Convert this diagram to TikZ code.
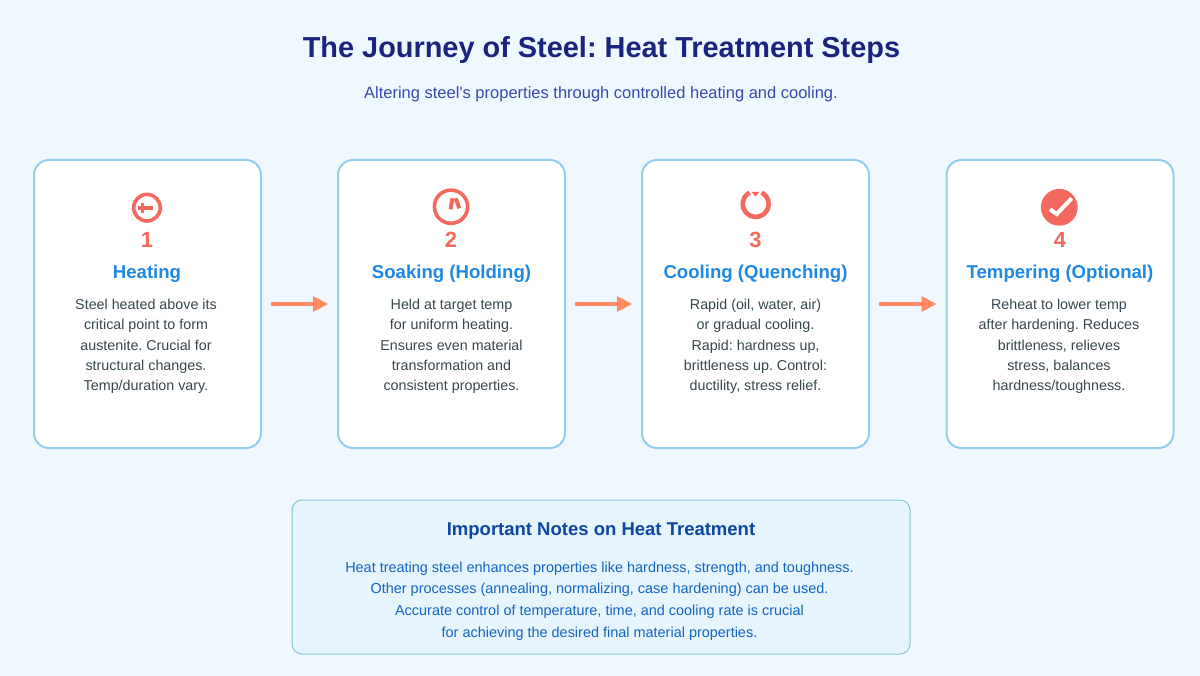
\documentclass[tikz,border=0pt]{standalone}
\usepackage{fontspec}
\setmainfont{Liberation Sans}
\usetikzlibrary{arrows.meta}
\definecolor{pagebg}{HTML}{F0F8FF}
\definecolor{cardedge}{HTML}{90CFEF}
\definecolor{noteedge}{HTML}{85C5D5}
\definecolor{notefill}{HTML}{E5F4FD}
\definecolor{titleblue}{HTML}{1A237E}
\definecolor{subblue}{HTML}{3949AB}
\definecolor{stepblue}{HTML}{1E88E5}
\definecolor{stepred}{HTML}{F4695F}
\definecolor{arrowred}{HTML}{FF8A65}
\definecolor{bodygrey}{HTML}{37474F}
\definecolor{notehead}{HTML}{0D47A1}
\definecolor{notetext}{HTML}{1565C0}
\def\cardw{227pt}
\def\cardh{288pt}
\tikzset{card/.style={draw=cardedge, line width=2pt, fill=white, rounded corners=15pt, minimum width=\cardw, minimum height=\cardh, inner sep=0pt, outer sep=0pt}}
\tikzset{notebox/.style={draw=noteedge, line width=1pt, fill=notefill, rounded corners=10pt, minimum width=618pt, minimum height=154pt, inner sep=0pt, outer sep=0pt}}
\tikzset{flow/.style={line width=3.3pt, arrowred, -{Triangle[length=15pt,width=15pt]}, shorten <=10pt, shorten >=10pt}}
\tikzset{num/.style={stepred, font=\bfseries\fontsize{22}{24}\selectfont}}
\tikzset{head/.style={stepblue, font=\bfseries\fontsize{18.6}{20}\selectfont}}
\tikzset{body/.style={bodygrey, align=center, font=\fontsize{14.3}{20.3}\selectfont}}
\tikzset{icon/.style={stepred, line width=3.6pt}}
\begin{document}
\frenchspacing
\begin{tikzpicture}[x=1pt, y=-1pt]
\useasboundingbox (0,0) rectangle (1200,676);
\fill[pagebg] (0,0) rectangle (1200,676);
\node[titleblue, font=\bfseries\fontsize{28.9}{32}\selectfont] (title) at (601.5,50.5) {The Journey of Steel: Heat Treatment Steps};
\node[subblue, font=\fontsize{16.5}{18}\selectfont] (subtitle) at (601,94) {Altering steel\textquotesingle s properties through controlled heating and cooling.};

\node[card] (heating) at (147.5,304) {};
\node[card] (soaking) at (451.5,304) {};
\node[card] (cooling) at (755.5,304) {};
\node[card] (tempering) at (1060,304) {};
\draw[flow] (heating.east) -- (soaking.west);
\draw[flow] (soaking.east) -- (cooling.west);
\draw[flow] (cooling.east) -- (tempering.west);

\draw[icon] (147,207.7) circle (13.3);
\draw[icon, line width=4pt] (137.5,207.7) -- (153,207.7);
\draw[icon, line width=3.6pt] (142.3,202.8) -- (142.3,212.6);
\node[num] (num1) at (147,240) {1};
\node[head] (head1) at (147,273.5) {Heating};
\node[body] (text1) at (146,346.5) {Steel heated above its\\critical point to form\\austenite. Crucial for\\structural changes.\\Temp/duration vary.};

\draw[icon] (451,206.7) circle (16.6);
\draw[icon, line width=4pt] (452.3,198.3) -- (450.7,209.3);
\draw[icon, line width=4pt] (455.7,198.3) -- (459.3,208.3);
\node[num] (num2) at (451,240) {2};
\node[head] (head2) at (451.5,273.5) {Soaking (Holding)};
\node[body] (text2) at (451.5,346.5) {Held at target temp\\for uniform heating.\\Ensures even material\\transformation and\\consistent properties.};

\draw[icon, line width=4.6pt] (755.7,204) ++(-62:13) arc[start angle=-62, end angle=242, radius=13];
\fill[stepred] (751.5,192) -- (759.5,192) -- (755.5,196.5) -- cycle;
\node[num] (num3) at (755.5,240) {3};
\node[head] (head3) at (755.5,273.5) {Cooling (Quenching)};
\node[body] (text3) at (755.5,346.5) {Rapid (oil, water, air)\\or gradual cooling.\\Rapid: hardness up,\\brittleness up. Control:\\ductility, stress relief.};

\fill[stepred] (1059.3,207.3) circle (18.4);
\draw[white, line width=4pt] (1050,209.3) -- (1056.7,214) -- (1071.7,198.3);
\node[num] (num4) at (1060,240) {4};
\node[head] (head4) at (1060,273.5) {Tempering (Optional)};
\node[body] (text4) at (1059,346.5) {Reheat to lower temp\\after hardening. Reduces\\brittleness, relieves\\stress, balances\\hardness/toughness.};

\node[notebox] (notes) at (601,577) {};
\node[notehead, font=\bfseries\fontsize{18.5}{20}\selectfont] (noteshead) at (601,531.5) {Important Notes on Heat Treatment};
\node[notetext, align=center, font=\fontsize{14.45}{21.7}\selectfont] (notestext) at (599.5,601) {Heat treating steel enhances properties like hardness, strength, and toughness.\\Other processes (annealing, normalizing, case hardening) can be used.\\Accurate control of temperature, time, and cooling rate is crucial\\for achieving the desired final material properties.};
\end{tikzpicture}
\end{document}
